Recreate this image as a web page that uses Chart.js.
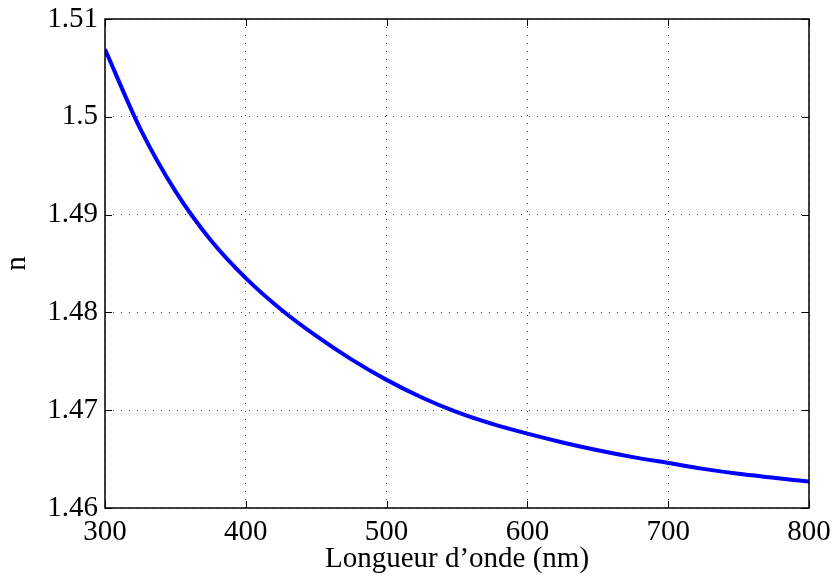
<!DOCTYPE html>
<html>
<head>
<meta charset="utf-8">
<script src="https://cdn.jsdelivr.net/npm/chart.js@4/dist/chart.umd.min.js"></script>
<style>
    html, body { margin: 0; padding: 0; background: #fff; }
    #wrap { width: 839px; height: 585px; }
</style>
</head>
<body>
<div id="wrap"><canvas id="indice"></canvas></div>
<script>
const wavelengths = [300, 325, 350, 375, 400, 425, 450, 475, 500, 525, 550, 575, 600, 625, 650, 675, 700, 725, 750, 775, 800];
const indexValues = [1.5069, 1.4988, 1.4924, 1.4874, 1.4835, 1.4803, 1.4776, 1.4752, 1.4731, 1.4713, 1.4698, 1.4686, 1.4676, 1.4667, 1.4659, 1.4652, 1.4646, 1.4640, 1.4635, 1.4631, 1.4627];
const xTicks = [300, 400, 500, 600, 700, 800];
const yTicks = [1.46, 1.47, 1.48, 1.49, 1.5, 1.51];
const yTickLabels = ['1.46', '1.47', '1.48', '1.49', '1.5', '1.51'];

const serif = '"Liberation Serif", "Times New Roman", serif';

// cadre noir + petites graduations vers l'intérieur (style MATLAB)
const boxPlugin = {
    id: 'boxPlugin',
    afterDraw(c) {
        const { ctx, chartArea: a } = c;
        const xs = c.scales.x, ys = c.scales.y;
        ctx.save();
        ctx.strokeStyle = '#000';
        ctx.lineWidth = 1.5;
        ctx.strokeRect(a.left, a.top, a.right - a.left, a.bottom - a.top);
        ctx.lineWidth = 1;
        ctx.beginPath();
        xTicks.forEach(v => {
            const px = Math.round(xs.getPixelForValue(v)) + 0.5;
            ctx.moveTo(px, a.bottom); ctx.lineTo(px, a.bottom - 7);
            ctx.moveTo(px, a.top); ctx.lineTo(px, a.top + 7);
        });
        yTicks.forEach(v => {
            const py = Math.round(ys.getPixelForValue(v)) + 0.5;
            ctx.moveTo(a.left, py); ctx.lineTo(a.left + 7, py);
            ctx.moveTo(a.right, py); ctx.lineTo(a.right - 7, py);
        });
        ctx.stroke();
        ctx.restore();
    }
};

new Chart(document.getElementById('indice'), {
    type: 'line',
    data: {
        labels: wavelengths,
        datasets: [{
            data: wavelengths.map((w, i) => ({ x: w, y: indexValues[i] })),
            borderColor: '#0000ff',
            borderWidth: 4,
            pointRadius: 0,
            fill: false,
            cubicInterpolationMode: 'monotone',
        }]
    },
    options: {
        responsive: true,
        maintainAspectRatio: false,
        animation: false,
        layout: { padding: { top: 19, right: 30, left: 0, bottom: 0 } },
        plugins: { legend: { display: false }, tooltip: { enabled: false } },
        scales: {
            x: {
                type: 'linear',
                min: 300,
                max: 800,
                afterBuildTicks: s => { s.ticks = xTicks.map(v => ({ value: v })); },
                afterFit: s => { s.height = 77; s.paddingLeft = 0; s.paddingRight = 0; },
                grid: { color: '#444', lineWidth: 1, drawTicks: false },
                border: { display: false, dash: [1, 7] },
                ticks: {
                    color: '#000',
                    padding: 7,
                    maxRotation: 0,
                    font: { family: serif, size: 29 },
                },
                title: {
                    display: true,
                    text: 'Longueur d\u2019onde (nm)',
                    color: '#000',
                    padding: { top: 0, bottom: 8 },
                    font: { family: serif, size: 29 },
                }
            },
            y: {
                min: 1.46,
                max: 1.51,
                afterBuildTicks: s => { s.ticks = yTicks.map(v => ({ value: v })); },
                afterFit: s => { s.width = 105; s.paddingTop = 0; s.paddingBottom = 0; },
                grid: { color: '#444', lineWidth: 1, drawTicks: false },
                border: { display: false, dash: [1, 7] },
                ticks: {
                    color: '#000',
                    padding: 7,
                    font: { family: serif, size: 29 },
                    callback: (v, i) => yTickLabels[i],
                },
                title: {
                    display: true,
                    text: 'n',
                    color: '#000',
                    padding: { top: 0, bottom: 4 },
                    font: { family: serif, size: 29 },
                }
            }
        }
    },
    plugins: [boxPlugin]
});
</script>
</body>
</html>
